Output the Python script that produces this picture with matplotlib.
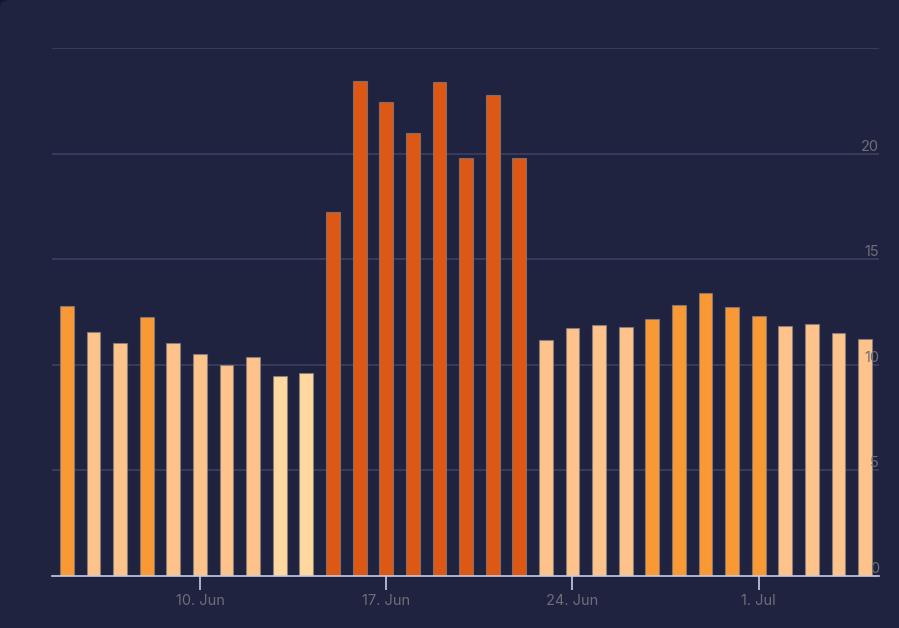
import matplotlib.pyplot as plt
import matplotlib.dates as mdates
from matplotlib.patches import FancyBboxPatch
import pandas as pd

# daily values, 5 Jun - 5 Jul
dates = pd.date_range("2024-06-05", "2024-07-05", freq="D")
values = [12.78, 11.55, 11.03, 12.26, 11.03, 10.51, 10.0, 10.37, 9.47, 9.61,
          17.23, 23.44, 22.44, 20.98, 23.39, 19.79, 22.77, 19.79,
          11.17, 11.74, 11.88, 11.79, 12.17, 12.83, 13.40, 12.74, 12.31,
          11.84, 11.93, 11.50, 11.22]
tick_dates = pd.to_datetime(["2024-06-10", "2024-06-17", "2024-06-24", "2024-07-01"])
y_ticks = [0, 5, 10, 15, 20]
y_max = 25


def bar_color(v):
    if v < 10:
        return "#fed89e"
    if v < 12:
        return "#fdc38b"
    if v < 17:
        return "#f89935"
    return "#dd5814"


bg = "#1f2340"
plt.rcParams["font.family"] = ["Inter", "DejaVu Sans"]

fig = plt.figure(figsize=(8.99, 6.28), dpi=100)
fig.patch.set_facecolor("#121538")
# only the top-left corner is rounded in the reference
fig.patches.append(FancyBboxPatch((0, -0.05), 1.05, 1.05, boxstyle="round,pad=0,rounding_size=0.012",
                                  transform=fig.transFigure, facecolor=bg, edgecolor="none",
                                  zorder=-1))

ax = fig.add_axes([52 / 899, 1 - 576 / 628, (879 - 52) / 899, (576 - 48) / 628])
ax.set_facecolor("none")

ax.bar(dates, values, width=0.52, color=[bar_color(v) for v in values],
       edgecolor=(0.55, 0.5, 0.5, 0.7), linewidth=0.8, zorder=2)

ax.set_xlim(dates[0] - pd.Timedelta(days=0.56), dates[-1] + pd.Timedelta(days=0.52))
ax.set_ylim(0, y_max)

for t in y_ticks + [y_max]:
    if t > 0:
        ax.axhline(t, color="#3c3f60", linewidth=1.2, zorder=1)
for t in y_ticks:
    ax.text(1.0, t, str(t), transform=ax.get_yaxis_transform(), ha="right", va="bottom",
            color="#6e6e78", fontsize=10.5, zorder=3)
ax.set_yticks([])

ax.set_xticks(tick_dates)
ax.xaxis.set_major_formatter(mdates.DateFormatter("%-d. %b"))
ax.tick_params(axis="x", colors="#c5cde3", length=10, width=1.2, labelsize=10.5,
               labelcolor="#6e6e78", pad=3)

for s in ["top", "right", "left"]:
    ax.spines[s].set_visible(False)
ax.spines["bottom"].set_color("#c5cde3")
ax.spines["bottom"].set_linewidth(1.2)
ax.spines["bottom"].set_zorder(3)

fig.savefig("out.png", dpi=100, facecolor=fig.get_facecolor())
